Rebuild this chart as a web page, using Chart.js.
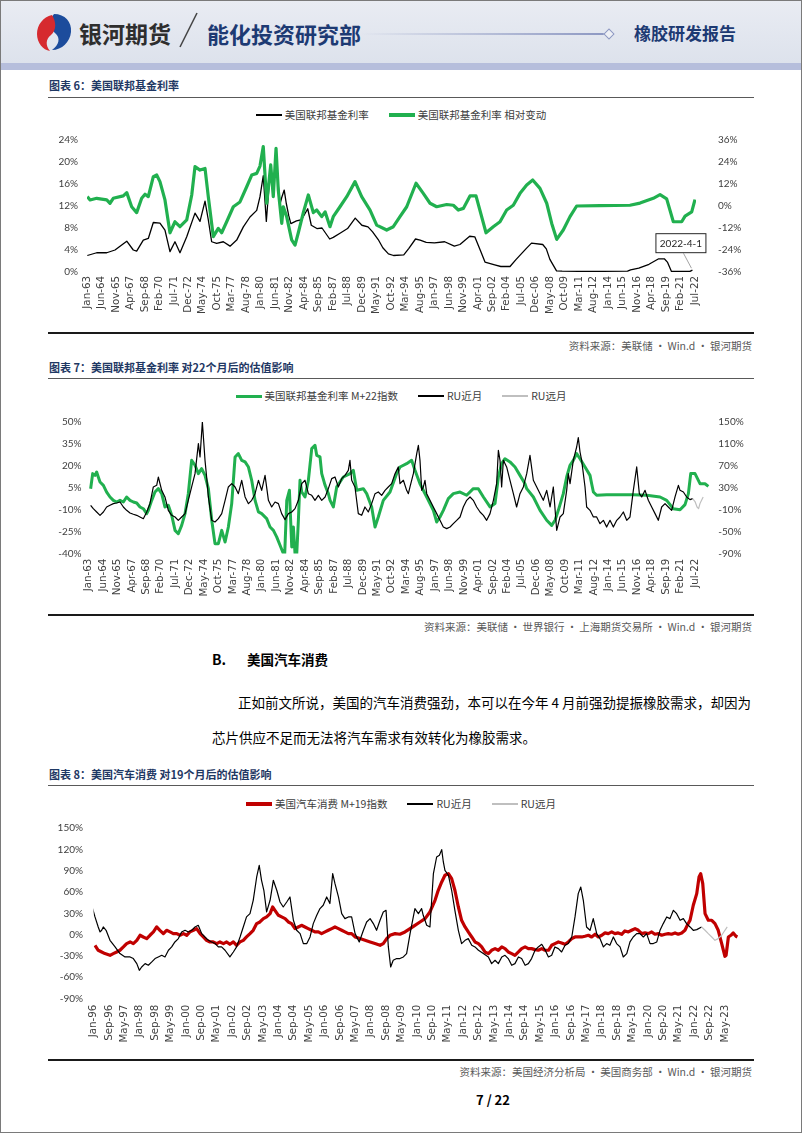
<!DOCTYPE html>
<html>
<head>
<meta charset="utf-8">
<script src="https://cdn.jsdelivr.net/npm/chart.js@4.4.0/dist/chart.umd.min.js"></script>
<style>
*{box-sizing:border-box}
body{margin:0;background:#fff}
#page{position:relative;width:802px;height:1133px;overflow:hidden;background:#fff;font-family:"Noto Sans CJK SC","Noto Sans",sans-serif;color:#000}
#frame{position:absolute;left:0;top:0;width:802px;height:1133px;border:1.5px solid #7a7a7a;pointer-events:none;z-index:5}
.abs{position:absolute;white-space:nowrap}
.ctitle{position:absolute;left:49px;font-size:11px;font-weight:700;color:#1f3864;line-height:14px;white-space:nowrap}
.rule{position:absolute;left:48px;width:706px;height:1.5px;background:#595959}
.rule2{position:absolute;left:48px;width:706px;height:2px;background:#1a1a1a}
.src{position:absolute;right:50px;font-size:10.5px;color:#595959;line-height:14px;white-space:nowrap}
.legend{position:absolute;left:0;width:802px;height:14px;display:flex;justify-content:center;align-items:center;font-size:10.5px;color:#404040;white-space:nowrap;line-height:14px}
.legend .it{display:flex;align-items:center;margin:0 10px}
.legend .sw{display:inline-block;width:26px;margin-right:3px}
canvas{position:absolute;left:0}
</style>
</head>
<body>
<div id="page">
  <!-- header -->
  <div class="abs" style="left:0;top:0;width:802px;height:63px;background:linear-gradient(180deg,#e9ecf3,#dde2ec)"></div>
  <div class="abs" style="left:0;top:63px;width:802px;height:7px;background:#b6bedc"></div>
  <svg class="abs" style="left:35px;top:12px" width="38" height="40" viewBox="0 0 38 40">
    <path d="M19 2 C30 2 37 10 36 20 C35 30 27 38 17 38 C24 33 26 26 20 21 C14 16 14 8 19 2Z" fill="#1c4c9c"/>
    <path d="M17 3 C8 5 2 13 2 22 C2 31 8 38 15 39 C10 33 11 27 16 23 C22 18 21 9 17 3Z" fill="#d62a2f"/>
  </svg>
  <div class="abs" style="left:79px;top:18px;font-size:23px;line-height:30px;font-weight:700;color:#2e2e2e">银河期货</div>
  <svg class="abs" style="left:176px;top:10px" width="26" height="42"><line x1="21" y1="3" x2="4" y2="37" stroke="#444" stroke-width="1.5"/></svg>
  <div class="abs" style="left:207px;top:19px;font-size:22px;line-height:28px;font-weight:700;color:#1d3a73">能化投资研究部</div>
  <div class="abs" style="left:360px;top:33px;width:245px;height:2px;background:linear-gradient(90deg,rgba(150,160,200,0),#8d98c2)"></div>
  <div class="abs" style="left:605px;top:29.5px;width:8px;height:8px;transform:rotate(45deg);border:1.2px solid #8d98c2;background:#eef0f5"></div>
  <div class="abs" style="left:634px;top:22px;font-size:17px;line-height:22px;font-weight:700;color:#1d3a73">橡胶研发报告</div>

  <!-- chart 6 -->
  <div class="ctitle" style="top:78px">图表 6：美国联邦基金利率</div>
  <div class="rule" style="top:96.5px"></div>
  <div class="legend" id="leg6" style="top:108px"></div>
  <canvas id="c6" width="802" height="222" style="top:110px"></canvas>
  <div class="rule2" style="top:332px"></div>
  <div class="src" style="top:339px">资料来源：美联储&thinsp;·&thinsp;Win.d&thinsp;·&thinsp;银河期货</div>

  <!-- chart 7 -->
  <div class="ctitle" style="top:360px">图表 7：美国联邦基金利率 对22个月后的估值影响</div>
  <div class="rule" style="top:377.5px"></div>
  <div class="legend" id="leg7" style="top:389px"></div>
  <canvas id="c7" width="802" height="206" style="top:406px"></canvas>
  <div class="rule2" style="top:614px"></div>
  <div class="src" style="top:620px">资料来源：美联储&thinsp;·&thinsp;世界银行&thinsp;·&thinsp;上海期货交易所&thinsp;·&thinsp;Win.d&thinsp;·&thinsp;银河期货</div>

  <!-- text -->
  <div class="abs" style="left:212px;top:649px;font-size:14px;line-height:20px;font-weight:700">B.</div>
  <div class="abs" style="left:247px;top:649px;font-size:13.5px;line-height:20px;font-weight:700">美国汽车消费</div>
  <div class="abs" style="left:238px;top:692px;font-size:13.5px;line-height:20px">正如前文所说，美国的汽车消费强劲，本可以在今年 4 月前强劲提振橡胶需求，却因为</div>
  <div class="abs" style="left:212px;top:727px;font-size:13.5px;line-height:20px">芯片供应不足而无法将汽车需求有效转化为橡胶需求。</div>

  <!-- chart 8 -->
  <div class="ctitle" style="top:767px">图表 8：美国汽车消费 对19个月后的估值影响</div>
  <div class="rule" style="top:784.5px"></div>
  <div class="legend" id="leg8" style="top:797px"></div>
  <canvas id="c8" width="802" height="246" style="top:810px"></canvas>
  <div class="rule2" style="top:1059px"></div>
  <div class="src" style="top:1065px">资料来源：美国经济分析局&thinsp;·&thinsp;美国商务部&thinsp;·&thinsp;Win.d&thinsp;·&thinsp;银河期货</div>

  <div class="abs" style="left:0;width:986px;top:1091px;font-size:13px;line-height:18px;font-weight:700;text-align:center">7 / 22</div>
  <div id="frame"></div>
</div>

<script>
// ---- tick labels ----
const ticks6322 = ['Jan-63','Jun-64','Nov-65','Apr-67','Sep-68','Feb-70','Jul-71','Dec-72','May-74','Oct-75',
  'Mar-77','Aug-78','Jan-80','Jun-81','Nov-82','Apr-84','Sep-85','Feb-87','Jul-88','Dec-89','May-91','Oct-92',
  'Mar-94','Aug-95','Jan-97','Jun-98','Nov-99','Apr-01','Sep-02','Feb-04','Jul-05','Dec-06','May-08','Oct-09',
  'Mar-11','Aug-12','Jan-14','Jun-15','Nov-16','Apr-18','Sep-19','Feb-21','Jul-22'];
const ticks9623 = ['Jan-96','Sep-96','May-97','Jan-98','Sep-98','May-99','Jan-00','Sep-00','May-01','Jan-02',
  'Sep-02','May-03','Jan-04','Sep-04','May-05','Jan-06','Sep-06','May-07','Jan-08','Sep-08','May-09','Jan-10',
  'Sep-10','May-11','Jan-12','Sep-12','May-13','Jan-14','Sep-14','May-15','Jan-16','Sep-16','May-17','Jan-18',
  'Sep-18','May-19','Jan-20','Sep-20','May-21','Jan-22','Sep-22','May-23'];

// ---- chart 6: [year, %] ----
const fedRate = [[1963.03,3.0],[1963.95,3.5],[1964.93,3.5],[1965.74,4.0],[1966.89,5.6],[1967.53,4.0],[1967.86,3.8],
  [1968.51,5.8],[1969.0,6.1],[1969.49,9.0],[1970.14,8.9],[1970.63,7.6],[1971.12,3.7],[1971.61,5.5],[1972.1,3.5],
  [1972.76,6.4],[1973.57,10.7],[1974.06,9.2],[1974.55,12.9],[1974.87,9.5],[1975.2,5.5],[1975.69,5.2],[1976.34,5.5],
  [1977.0,4.7],[1977.65,5.8],[1978.3,8.2],[1978.95,10.0],[1979.61,11.2],[1979.93,13.7],[1980.25,17.5],[1980.55,9.2],
  [1980.95,18.9],[1981.15,16.0],[1981.45,19.1],[1981.6,18.0],[1981.9,12.4],[1982.05,13.5],[1982.3,14.9],[1982.5,12.5],
  [1982.75,10.2],[1982.95,8.8],[1983.5,9.3],[1984.0,9.5],[1984.6,11.5],[1984.95,8.5],[1985.5,7.9],[1986.0,8.0],
  [1986.75,6.0],[1987.1,6.3],[1987.8,7.1],[1988.5,7.9],[1989.25,9.8],[1989.9,8.5],[1990.5,8.2],[1990.95,7.3],
  [1991.5,5.9],[1991.95,4.4],[1992.5,3.3],[1993.0,3.0],[1994.0,3.1],[1994.5,4.3],[1995.15,6.0],[1995.6,5.8],
  [1996.2,5.4],[1997.0,5.3],[1998.0,5.5],[1998.95,4.7],[1999.5,5.0],[2000.45,6.5],[2000.95,6.4],[2001.5,3.9],
  [2001.95,1.8],[2002.9,1.3],[2003.5,1.0],[2004.4,1.0],[2005.0,2.3],[2005.5,3.3],[2006.0,4.3],[2006.5,5.25],
  [2007.6,5.0],[2007.95,4.2],[2008.3,2.3],[2008.95,0.2],[2009.5,0.15],[2012.0,0.1],[2015.9,0.15],[2016.2,0.4],
  [2017.0,0.7],[2018.0,1.4],[2018.95,2.4],[2019.5,2.4],[2019.8,1.8],[2020.2,0.1],[2022.0,0.1],[2022.25,0.33]];
const fedRelChange = [[1963.03,5.1],[1963.3,3.3],[1963.95,4.2],[1964.93,3.3],[1965.25,1.5],[1965.57,4.2],[1966.55,5.5],
  [1966.89,7.3],[1967.37,-0.4],[1967.86,-3.6],[1968.35,4.2],[1968.68,6.4],[1969.0,5.1],[1969.49,16.0],[1969.82,16.9],
  [1970.14,13.3],[1970.63,3.3],[1971.12,-14.6],[1971.61,-8.6],[1972.1,-11.3],[1972.76,-7.6],[1973.25,6.0],[1973.57,21.5],
  [1974.06,19.6],[1974.55,20.5],[1974.87,5.1],[1975.36,-16.7],[1975.85,-12.2],[1976.18,-14.6],[1976.67,-8.6],
  [1977.32,-0.4],[1977.97,2.2],[1978.63,10.5],[1979.12,16.9],[1979.61,17.8],[1979.93,21.8],[1980.25,32.4],[1980.59,1.5],
  [1980.98,22.4],[1981.23,5.1],[1981.5,31.5],[1981.72,8.7],[1982.06,-9.5],[1982.21,-0.4],[1982.54,-5.8],[1983.03,-18.5],
  [1983.36,-21.3],[1983.68,-14.6],[1984.17,-3.6],[1984.66,6.0],[1985.15,-3.6],[1985.48,-2.2],[1985.97,-5.8],[1986.3,-3.2],
  [1986.78,-11.3],[1987.1,-5.8],[1987.76,-0.4],[1988.42,5.1],[1989.23,13.3],[1989.88,5.1],[1990.7,-2.2],[1991.35,-10.4],
  [1992.33,-13.1],[1992.98,-11.3],[1993.63,-5.8],[1994.29,-0.4],[1995.2,12.4],[1995.91,6.9],[1996.57,1.5],[1997.22,-0.4],
  [1998.2,0.8],[1998.85,0.4],[1999.34,-2.2],[1999.83,-1.3],[2000.48,5.5],[2001.07,5.5],[2002.05,-14.6],[2002.76,-11.3],
  [2003.42,-8.6],[2004.07,-2.2],[2004.72,0.4],[2005.38,6.9],[2006.03,11.5],[2006.62,14.2],[2007.33,9.6],[2007.99,1.5],
  [2008.48,-9.5],[2008.97,-18.2],[2009.61,-13.1],[2010.27,-5.8],[2010.92,0],[2013.2,0.2],[2016.14,0.4],[2017.12,1.6],
  [2018.42,4.2],[2019.08,6.2],[2019.73,3.9],[2020.38,-8.6],[2021.2,-8.6],[2021.53,-5.5],[2022.18,-3.2],[2022.5,3.5]];
const calloutPoint = [2022.25, 0.33];
const calloutText = '2022-4-1';

// ---- chart 7 ----
const fedM22 = [[1963.21,4.4],[1963.41,14.7],[1963.64,13.5],[1963.8,15.8],[1963.96,12.4],[1964.13,9.0],[1964.46,6.7],
  [1964.78,2.1],[1965.11,-1.3],[1965.44,-3.6],[1965.76,-4.7],[1966.09,-3.6],[1966.42,-4.7],[1966.74,-1.3],[1967.07,-3.6],
  [1967.4,-4.7],[1967.73,-5.4],[1968.05,-8.1],[1968.38,-9.3],[1968.71,-12.7],[1968.87,-10.4],[1969.2,-3.6],[1969.52,2.1],
  [1969.85,4.4],[1970.18,1.0],[1970.5,-8.1],[1970.83,-7.0],[1971.16,-13.8],[1971.49,-24.1],[1971.81,-26.4],[1972.14,-20.7],
  [1972.47,-12.7],[1972.79,1.0],[1973.12,23.8],[1973.45,20.4],[1973.78,14.7],[1974.1,18.1],[1974.43,13.5],[1974.76,4.4],
  [1975.09,-17.2],[1975.41,-33.2],[1975.74,-33.2],[1976.07,-24.1],[1976.4,-32.1],[1976.72,-21.8],[1977.05,-5.8],
  [1977.38,26.1],[1977.7,28.4],[1978.03,23.8],[1978.36,22.7],[1978.69,19.2],[1979.01,10.1],[1979.34,-3.6],[1979.67,-11.5],
  [1979.99,-12.7],[1980.48,-16.1],[1980.81,-21.8],[1981.14,-24.1],[1981.46,-28.6],[1981.79,-34.3],[1982.12,-40],
  [1982.25,-40],[1982.45,-3.6],[1982.71,3.3],[1982.94,-35.5],[1983.1,-21.8],[1983.26,-40],[1983.43,-40],[1983.59,-17.2],
  [1983.75,10.1],[1983.92,2.1],[1984.24,-1.3],[1984.57,10.1],[1984.9,31.8],[1985.22,34.1],[1985.39,27.2],[1985.71,26.1],
  [1985.88,14.7],[1986.21,6.7],[1986.53,1.0],[1986.7,-3.6],[1987.02,-8.1],[1987.35,5.6],[1988.0,12.4],[1988.66,14.7],
  [1988.98,17.0],[1989.31,3.3],[1989.96,4.4],[1990.29,1.0],[1990.78,-8.1],[1991.11,-21.8],[1991.43,-15],[1991.92,-3.6],
  [1992.58,2.1],[1993.23,14.7],[1993.56,19.2],[1994.21,21.5],[1994.7,23.8],[1995.03,17.0],[1995.52,7.8],[1996.18,-1.3],
  [1996.83,-10.4],[1997.16,-18.4],[1997.48,-15],[1997.81,-10.4],[1998.3,-2.4],[1998.79,1.0],[1999.45,2.1],[2000.1,-0.1],
  [2000.75,4.4],[2001.24,4.4],[2001.74,-1.3],[2002.39,-8.1],[2002.88,-5.8],[2003.21,12.4],[2003.53,21.5],[2003.86,24.9],
  [2004.35,22.7],[2004.84,19.2],[2005.33,13.5],[2005.82,7.8],[2005.99,4.4],[2006.64,-1.3],[2007.3,-10.4],[2007.95,-17.2],
  [2008.44,-20.7],[2008.77,-17.2],[2009.09,-10.4],[2009.58,1.0],[2009.91,12.4],[2010.24,20.4],[2010.56,23.8],
  [2010.89,28.4],[2011.22,24.9],[2011.71,19.2],[2012.2,13.5],[2012.36,7.8],[2012.53,2.1],[2012.85,-0.1],[2013.83,0.3],
  [2016.45,0.3],[2017.76,-0.1],[2019.07,-1.3],[2019.72,-3.6],[2020.37,-9.3],[2021.03,-10.0],[2021.52,-6.5],[2021.85,1.0],
  [2022.08,14.7],[2022.5,14.7],[2022.83,10.1],[2022.99,7.8],[2023.48,7.8],[2023.81,6.0]];
const ruNear7 = [[1963.21,-1.9],[1963.47,-8.0],[1963.8,-14.1],[1964.13,-20.2],[1964.46,-14.1],[1964.78,-5.0],[1965.11,-1.9],
  [1965.44,1.1],[1965.76,2.3],[1966.09,4.1],[1966.42,-5.0],[1966.74,-11.1],[1967.07,-15.9],[1967.4,-18.3],[1967.73,-20.2],
  [1968.05,-23.2],[1968.38,-26.3],[1968.71,-14.1],[1969.03,1.1],[1969.36,31.5],[1969.69,34.5],[1969.85,49.7],[1970.18,25.4],
  [1970.5,13.3],[1970.83,-11.1],[1971.16,-20.2],[1971.49,-23.2],[1971.81,-29.3],[1972.14,-23.2],[1972.47,-17.1],
  [1972.79,7.2],[1973.12,31.5],[1973.45,55.8],[1973.78,110.5],[1973.94,86.2],[1974.17,150],[1974.43,80.1],[1974.59,49.7],
  [1974.76,13.3],[1975.09,-29.3],[1975.41,-32.3],[1975.74,-26.3],[1976.07,-17.1],[1976.4,7.2],[1976.72,31.5],[1977.05,37.6],
  [1977.38,31.5],[1977.7,19.3],[1978.03,43.7],[1978.36,13.3],[1978.69,1.1],[1979.01,7.2],[1979.34,19.3],[1979.67,43.7],
  [1979.99,25.4],[1980.32,52.8],[1980.65,7.2],[1980.97,-5.0],[1981.3,4.1],[1981.63,1.1],[1981.95,-17.1],[1982.28,-28.1],
  [1982.61,-17.1],[1982.94,-14.1],[1983.26,-8.0],[1983.59,7.2],[1983.92,37.6],[1984.24,43.7],[1984.57,19.3],[1984.9,16.3],
  [1985.22,7.2],[1985.55,16.3],[1985.88,7.2],[1986.21,13.3],[1986.53,28.5],[1986.86,46.7],[1987.18,49.7],[1987.51,31.5],
  [1987.84,46.7],[1988.16,52.8],[1988.49,61.9],[1988.65,80.1],[1988.82,43.7],[1989.14,31.5],[1989.47,-17.1],[1989.8,-20.2],
  [1990.12,-5.0],[1990.45,-14.1],[1990.78,1.1],[1991.11,19.3],[1991.43,22.4],[1991.76,16.3],[1992.09,25.4],[1992.41,31.5],
  [1992.74,37.6],[1993.07,55.8],[1993.39,68.0],[1993.56,37.6],[1993.89,43.7],[1994.21,25.4],[1994.38,19.3],[1994.54,31.5],
  [1994.87,55.8],[1995.2,92.3],[1995.36,107.5],[1995.52,80.1],[1995.69,25.4],[1995.85,31.5],[1996.01,43.7],[1996.18,19.3],
  [1996.5,7.2],[1996.83,-5.0],[1997.16,-17.1],[1997.48,-29.3],[1997.81,-41.5],[1998.14,-44.5],[1998.47,-41.5],
  [1998.79,-35.4],[1999.12,-29.3],[1999.45,-23.2],[1999.77,-5.0],[2000.1,7.2],[2000.43,13.3],[2000.75,7.2],[2001.08,-5.0],
  [2001.41,-14.1],[2001.74,-20.2],[2002.06,-29.3],[2002.39,-17.1],[2002.72,7.2],[2003.04,37.6],[2003.21,98.4],[2003.37,80.1],
  [2003.53,31.5],[2003.7,80.1],[2004.02,68.0],[2004.35,43.7],[2004.68,19.3],[2005.0,-5.0],[2005.33,19.3],[2005.66,31.5],
  [2005.99,55.8],[2006.31,89.2],[2006.64,43.7],[2006.97,31.5],[2007.3,19.3],[2007.62,7.2],[2007.95,25.4],[2008.28,-5.0],
  [2008.6,31.5],[2008.93,-47.5],[2009.26,-23.2],[2009.58,-17.1],[2009.91,25.4],[2010.07,55.8],[2010.24,37.6],[2010.56,80.1],
  [2010.89,104.4],[2011.05,121.5],[2011.22,95.3],[2011.38,80.1],[2011.71,31.5],[2011.87,-5.0],[2012.2,-11.1],[2012.53,-23.2],
  [2012.85,-23.2],[2013.18,-35.4],[2013.51,-29.3],[2013.83,-41.5],[2014.16,-29.3],[2014.49,-41.5],[2014.82,-29.3],
  [2015.14,-23.2],[2015.47,-14.1],[2015.8,-29.3],[2016.12,-23.2],[2016.45,25.4],[2016.78,68.0],[2017.04,19.3],
  [2017.27,13.3],[2017.6,25.4],[2017.92,7.2],[2018.25,-5.0],[2018.58,-17.1],[2018.9,-29.3],[2019.23,-5.0],[2019.56,1.1],
  [2019.88,-5.0],[2020.21,-11.1],[2020.54,13.3],[2020.87,34.5],[2021.03,25.4],[2021.36,22.4],[2021.68,13.3],[2022.01,8.4],
  [2022.27,10.2]];
const ruFar7 = [[2022.27,10.2],[2022.5,5],[2022.7,-5],[2022.85,-8],[2023.0,2],[2023.3,13.3]];

// ---- chart 8 ----
const autoM19 = [[1996.06,-15.0],[1996.2,-22.0],[1996.35,-24.4],[1996.49,-26.7],[1996.71,-29.1],[1996.85,-26.7],
  [1997.0,-24.4],[1997.14,-22.0],[1997.29,-17.3],[1997.43,-12.6],[1997.58,-10.3],[1997.72,-12.6],[1997.87,-8.0],
  [1998.01,-0.9],[1998.15,-3.3],[1998.3,-5.6],[1998.44,-0.9],[1998.59,3.8],[1998.73,10.8],[1998.87,6.1],[1999.02,1.4],
  [1999.16,6.1],[1999.31,3.8],[1999.45,1.4],[1999.6,1.4],[1999.74,-0.9],[1999.89,1.4],[2000.03,-0.9],[2000.17,3.8],
  [2000.32,6.1],[2000.46,8.5],[2000.61,1.4],[2000.75,-3.3],[2000.89,-8.0],[2001.04,-10.3],[2001.18,-10.3],[2001.33,-12.6],
  [2001.47,-10.3],[2001.62,-12.6],[2001.76,-10.3],[2001.9,-13.6],[2002.05,-10.3],[2002.19,-15.0],[2002.34,-10.3],
  [2002.48,-8.0],[2002.62,-3.3],[2002.77,1.4],[2002.91,6.1],[2003.06,15.5],[2003.2,17.8],[2003.35,22.5],[2003.49,24.9],
  [2003.64,29.5],[2003.75,38.9],[2003.85,34.2],[2004.0,27.2],[2004.14,24.9],[2004.29,22.5],[2004.43,17.8],[2004.57,15.5],
  [2004.72,8.5],[2004.86,10.8],[2005.0,13.1],[2005.15,10.8],[2005.29,8.5],[2005.44,6.1],[2005.58,3.8],[2005.73,3.8],
  [2005.87,1.4],[2006.02,3.8],[2006.16,6.1],[2006.31,8.5],[2006.45,10.8],[2006.6,8.5],[2006.74,6.1],[2006.88,3.8],
  [2007.03,1.4],[2007.17,1.4],[2007.32,-3.3],[2007.53,-5.6],[2007.75,-8.0],[2007.97,-10.3],[2008.18,-12.6],[2008.4,-15.0],
  [2008.54,-12.6],[2008.69,-5.6],[2008.83,-0.9],[2009.05,1.4],[2009.26,0.5],[2009.48,3.8],[2009.7,8.5],[2009.91,13.1],
  [2010.13,17.8],[2010.35,22.5],[2010.56,31.9],[2010.78,48.3],[2010.92,62.4],[2011.07,74.1],[2011.21,83.5],[2011.36,85.8],
  [2011.5,78.8],[2011.64,62.4],[2011.79,38.9],[2011.93,20.2],[2012.08,10.8],[2012.22,3.8],[2012.37,-3.3],[2012.51,-10.3],
  [2012.66,-12.6],[2012.8,-17.3],[2012.94,-24.4],[2013.09,-26.7],[2013.23,-22.0],[2013.38,-19.7],[2013.52,-22.0],
  [2013.67,-17.3],[2013.81,-19.7],[2013.95,-24.4],[2014.1,-26.7],[2014.24,-29.1],[2014.39,-24.4],[2014.53,-19.7],
  [2014.68,-17.3],[2014.82,-19.7],[2014.96,-19.7],[2015.11,-21.1],[2015.25,-22.0],[2015.4,-19.7],[2015.54,-22.0],
  [2015.69,-22.0],[2015.83,-15.0],[2015.97,-12.6],[2016.12,-10.3],[2016.26,-11.7],[2016.41,-13.6],[2016.55,-10.3],
  [2016.7,-5.6],[2016.84,-3.3],[2016.98,-3.3],[2017.13,-3.3],[2017.27,-2.3],[2017.42,-0.9],[2017.56,-3.3],[2017.71,0.5],
  [2017.85,-3.3],[2018.0,-0.9],[2018.14,2.4],[2018.28,1.4],[2018.43,3.8],[2018.57,1.4],[2018.71,2.4],[2018.86,0.5],
  [2019.0,5.2],[2019.15,3.8],[2019.29,6.1],[2019.44,8.5],[2019.58,6.1],[2019.73,1.4],[2019.87,2.4],[2020.01,1.4],
  [2020.16,3.8],[2020.3,0.5],[2020.45,1.4],[2020.59,-0.9],[2020.74,0.5],[2020.88,1.4],[2021.02,0.5],[2021.17,2.4],
  [2021.31,0.5],[2021.46,2.4],[2021.6,6.1],[2021.7,13.1],[2021.82,20.2],[2021.96,41.3],[2022.11,57.7],[2022.21,81.1],
  [2022.28,85.8],[2022.37,71.7],[2022.47,29.5],[2022.61,20.2],[2022.76,20.2],[2022.9,15.5],[2023.04,6.1],[2023.19,-12.6],
  [2023.33,-30.5],[2023.38,-29],[2023.48,-3.3],[2023.59,-0.9],[2023.69,2.4],[2023.81,-2.3],[2023.87,-3.3]];
const ruNear8 = [[1995.96,36.6],[1996.06,24.9],[1996.2,10.8],[1996.28,3.8],[1996.35,6.1],[1996.42,10.8],[1996.54,6.1],
  [1996.71,-8.0],[1996.93,-17.3],[1997.14,-26.7],[1997.36,-31.4],[1997.58,-31.4],[1997.72,-33.7],[1997.87,-40.8],
  [1997.98,-50.2],[1998.08,-45.5],[1998.23,-40.8],[1998.37,-43.1],[1998.52,-38.4],[1998.66,-33.7],[1998.8,-31.4],
  [1998.95,-29.1],[1999.09,-31.4],[1999.24,-22.0],[1999.38,-17.3],[1999.52,-10.3],[1999.67,-5.6],[1999.81,3.8],
  [1999.96,6.1],[2000.1,3.8],[2000.25,6.1],[2000.39,10.8],[2000.53,13.1],[2000.68,1.4],[2000.82,-3.3],[2000.97,-8.0],
  [2001.11,-10.3],[2001.26,-12.6],[2001.4,-17.3],[2001.54,-17.3],[2001.69,-22.0],[2001.9,-31.4],[2002.05,-24.4],
  [2002.19,-17.3],[2002.34,-3.3],[2002.48,10.8],[2002.62,24.9],[2002.77,29.5],[2002.91,48.3],[2003.06,81.1],[2003.17,97.5],
  [2003.27,76.4],[2003.37,62.4],[2003.49,31.9],[2003.64,48.3],[2003.78,76.4],[2003.93,62.4],[2004.07,45.9],[2004.21,38.9],
  [2004.36,45.9],[2004.5,53.0],[2004.65,20.2],[2004.79,6.1],[2004.94,1.4],[2005.08,-12.6],[2005.23,-12.6],[2005.37,-3.3],
  [2005.51,15.5],[2005.66,27.2],[2005.8,36.6],[2005.94,41.3],[2006.09,53.0],[2006.23,43.7],[2006.35,85.8],[2006.45,71.7],
  [2006.6,53.0],[2006.74,29.5],[2006.88,22.5],[2007.03,24.9],[2007.17,24.9],[2007.32,1.4],[2007.5,-10.3],[2007.68,6.1],
  [2007.82,17.8],[2007.97,22.5],[2008.11,15.5],[2008.25,6.1],[2008.4,20.2],[2008.54,31.9],[2008.66,34.2],[2008.76,-17.3],
  [2008.86,-45.5],[2008.97,-36.1],[2009.12,-33.7],[2009.26,-33.7],[2009.41,-31.4],[2009.55,-26.7],[2009.7,1.4],
  [2009.84,24.9],[2009.91,36.6],[2010.06,29.5],[2010.2,36.6],[2010.27,27.2],[2010.42,13.1],[2010.56,10.8],[2010.71,85.8],
  [2010.85,109.2],[2010.97,111.6],[2011.07,119.6],[2011.14,102.2],[2011.21,90.5],[2011.36,83.5],[2011.5,62.4],
  [2011.64,34.2],[2011.79,6.1],[2011.93,-12.6],[2012.08,-8.0],[2012.22,-5.6],[2012.37,-15.0],[2012.51,-17.3],
  [2012.66,-22.0],[2012.87,-26.7],[2013.09,-31.4],[2013.23,-40.8],[2013.38,-36.1],[2013.52,-40.8],[2013.67,-31.4],
  [2013.81,-29.1],[2013.95,-33.7],[2014.1,-43.1],[2014.24,-40.8],[2014.39,-31.4],[2014.53,-33.7],[2014.68,-43.1],
  [2014.82,-40.8],[2014.96,-33.7],[2015.11,-22.0],[2015.25,-17.3],[2015.4,-13.6],[2015.54,-21.1],[2015.69,-31.4],
  [2015.83,-29.1],[2015.97,-17.3],[2016.12,-19.7],[2016.26,-24.4],[2016.41,-15.0],[2016.55,-12.6],[2016.7,-3.3],
  [2016.84,24.9],[2016.98,57.7],[2017.09,67.0],[2017.2,48.3],[2017.34,10.8],[2017.49,6.1],[2017.63,22.5],[2017.78,1.4],
  [2017.92,-5.6],[2018.07,-17.3],[2018.21,-12.6],[2018.35,-15.0],[2018.5,-3.3],[2018.64,-12.6],[2018.79,-17.3],
  [2018.93,-31.4],[2019.08,-26.7],[2019.22,-10.3],[2019.36,-3.3],[2019.51,1.4],[2019.65,1.4],[2019.8,-3.3],[2019.94,1.4],
  [2020.09,-12.6],[2020.23,-12.6],[2020.38,-10.3],[2020.52,6.1],[2020.66,15.5],[2020.81,24.9],[2020.95,22.5],[2021.1,34.2],
  [2021.24,29.5],[2021.39,20.2],[2021.53,22.5],[2021.67,15.5],[2021.82,10.8],[2021.96,6.1],[2022.11,7.0],[2022.32,10.8]];
const ruFar8 = [[2022.32,10.8],[2022.47,6.1],[2022.61,1.4],[2022.76,-3.3],[2022.9,-8.0],[2023.04,-5.6],[2023.19,-0.9],
  [2023.33,6.1],[2023.43,10.8]];

// ---- helpers ----
const MONTHS = ['Jan','Feb','Mar','Apr','May','Jun','Jul','Aug','Sep','Oct','Nov','Dec'];
function tickValue(s) {
  let y = +s.slice(4);
  y += y > 50 ? 1900 : 2000;
  return y + MONTHS.indexOf(s.slice(0, 3)) / 12;
}
const pts = arr => arr.map(p => ({x: p[0], y: p[1]}));
const TXT = '#404040';

function xAxis(labels, min, max, height, pad) {
  const vals = labels.map(tickValue);
  return {
    type: 'linear', min, max,
    grid: {display: false, drawTicks: false}, border: {display: false},
    afterBuildTicks: ax => { ax.ticks = vals.map(v => ({value: v})); },
    afterFit: ax => { ax.height = height; },
    ticks: {autoSkip: false, minRotation: 90, maxRotation: 90, padding: pad, color: TXT,
      font: {family: 'DejaVu Sans', size: 10.3},
      callback: (v, i) => labels[i]}
  };
}
function yAxis(position, min, max, step, width, pad) {
  return {
    type: 'linear', position, min, max,
    grid: {display: false, drawTicks: false}, border: {display: false},
    afterFit: ax => { ax.width = width; },
    ticks: {stepSize: step, padding: pad, color: TXT, font: {family: 'Lato', size: 10},
      callback: v => v + '%'}
  };
}
function line(label, data, color, width, axis, order) {
  return {label, data: pts(data), borderColor: color, backgroundColor: color, borderWidth: width,
    pointRadius: 0, tension: 0, fill: false, yAxisID: axis, order, borderJoinStyle: 'round'};
}
// top padding must cover half a tick label plus the y tick padding, or Chart.js adds its own
function baseOptions(scales, padTop, padRight) {
  return {
    responsive: false, animation: false, events: [],
    layout: {padding: {top: padTop, left: 0, right: padRight, bottom: 0}},
    plugins: {legend: {display: false}, tooltip: {enabled: false}},
    scales
  };
}
function buildLegend(id, chart) {
  const el = document.getElementById(id);
  chart.data.datasets.forEach(ds => {
    const it = document.createElement('span'); it.className = 'it';
    const sw = document.createElement('span'); sw.className = 'sw';
    sw.style.height = Math.max(1, ds.borderWidth) + 'px';
    sw.style.background = ds.borderColor;
    it.appendChild(sw);
    it.appendChild(document.createTextNode(ds.label));
    el.appendChild(it);
  });
}

const GREEN = '#21b04f', RED = '#c00000', BLACK = '#000000', GREY = '#bfbfbf';

// callout box for the last fed funds point
const callout = {
  id: 'callout',
  afterDatasetsDraw(chart) {
    const x = chart.scales.x.getPixelForValue(calloutPoint[0]);
    const y = chart.scales.y.getPixelForValue(calloutPoint[1]);
    const ctx = chart.ctx;
    ctx.save();
    ctx.strokeStyle = '#8c8c8c'; ctx.lineWidth = 0.8;
    ctx.beginPath(); ctx.moveTo(x - 9, y - 17); ctx.lineTo(x - 1, y - 2); ctx.stroke();
    ctx.fillStyle = '#fff'; ctx.fillRect(x - 36, y - 36, 50, 19);
    ctx.strokeStyle = '#262626'; ctx.lineWidth = 1;
    ctx.strokeRect(x - 36.5, y - 36.5, 50, 19);
    ctx.fillStyle = '#262626'; ctx.font = '10px Lato';
    ctx.textAlign = 'center'; ctx.textBaseline = 'middle';
    ctx.fillText(calloutText, x - 11.5, y - 26.5);
    ctx.restore();
  }
};

// chart 6
const c6 = new Chart(document.getElementById('c6'), {
  type: 'line',
  data: {datasets: [
    line('美国联邦基金利率', fedRate, BLACK, 1.3, 'y', 2),
    line('美国联邦基金利率 相对变动', fedRelChange, GREEN, 3.2, 'y1', 1)
  ]},
  options: baseOptions({
    x: xAxis(ticks6322, 1963.0, 2022.6, 60, 4),
    y: yAxis('left', 0, 24, 4, 87, 9),
    y1: yAxis('right', -36, 36, 12, 106, 22)
  }, 30, 0),
  plugins: [callout]
});
buildLegend('leg6', c6);

// chart 7
const c7 = new Chart(document.getElementById('c7'), {
  type: 'line',
  data: {datasets: [
    line('美国联邦基金利率 M+22指数', fedM22, GREEN, 3, 'y', 3),
    line('RU近月', ruNear7, BLACK, 1.2, 'y1', 2),
    line('RU远月', ruFar7, GREY, 1.2, 'y1', 1)
  ]},
  options: baseOptions({
    x: xAxis(ticks6322, 1963.0, 2024.0, 58.4, 5),
    y: yAxis('left', -40, 50, 15, 88.5, 7),
    y1: yAxis('right', -90, 150, 40, 91.7, 8)
  }, 16, 0)
});
buildLegend('leg7', c7);

// chart 8
const c8 = new Chart(document.getElementById('c8'), {
  type: 'line',
  data: {datasets: [
    line('美国汽车消费 M+19指数', autoM19, RED, 3.2, 'y', 3),
    line('RU近月', ruNear8, BLACK, 1.2, 'y', 2),
    line('RU远月', ruFar8, GREY, 1.2, 'y', 1)
  ]},
  options: baseOptions({
    x: xAxis(ticks9623, 1996.0, 2024.0, 57.4, 6),
    y: yAxis('left', -90, 150, 30, 93.6, 10.6)
  }, 18, 61.6)
});
buildLegend('leg8', c8);
</script>
</body>
</html>
